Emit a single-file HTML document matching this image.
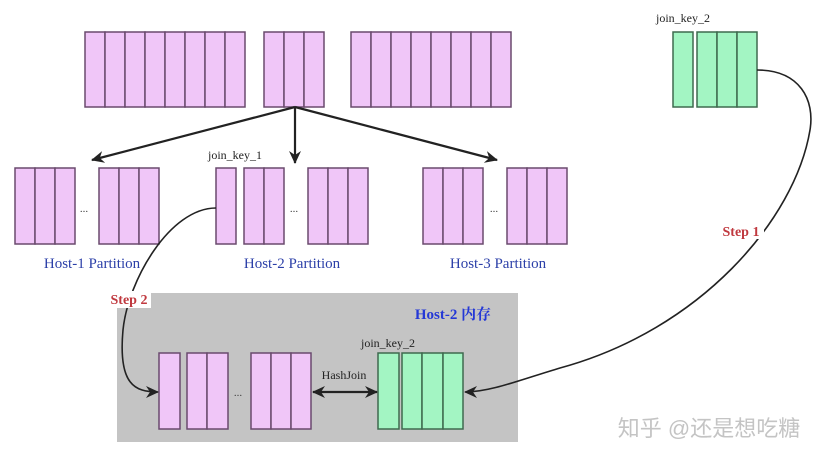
<!DOCTYPE html>
<html><head><meta charset="utf-8"><style>
html,body{margin:0;padding:0;background:#fff;width:831px;height:456px;overflow:hidden}
svg{display:block}
</style></head><body>
<svg width="831" height="456" viewBox="0 0 831 456" xmlns="http://www.w3.org/2000/svg" font-family="Liberation Serif, serif">
<defs>
<marker id="ah" markerWidth="13" markerHeight="12" refX="12" refY="6" orient="auto" markerUnits="userSpaceOnUse">
<path d="M0,0 L13,6 L0,12 L4,6 Z" fill="#222"/></marker>
<marker id="ahs" markerWidth="13" markerHeight="12" refX="1" refY="6" orient="auto" markerUnits="userSpaceOnUse">
<path d="M13,0 L0,6 L13,12 L9,6 Z" fill="#222"/></marker>
</defs>
<rect x="117" y="293" width="401" height="149" fill="#c4c4c4"/>
<g fill="#f0c6f8" stroke="#6a4a6e" stroke-width="1.5">
<rect x="85" y="32" width="20" height="75"/><rect x="105" y="32" width="20" height="75"/><rect x="125" y="32" width="20" height="75"/><rect x="145" y="32" width="20" height="75"/><rect x="165" y="32" width="20" height="75"/><rect x="185" y="32" width="20" height="75"/><rect x="205" y="32" width="20" height="75"/><rect x="225" y="32" width="20" height="75"/>
<rect x="264" y="32" width="20" height="75"/><rect x="284" y="32" width="20" height="75"/><rect x="304" y="32" width="20" height="75"/>
<rect x="351" y="32" width="20" height="75"/><rect x="371" y="32" width="20" height="75"/><rect x="391" y="32" width="20" height="75"/><rect x="411" y="32" width="20" height="75"/><rect x="431" y="32" width="20" height="75"/><rect x="451" y="32" width="20" height="75"/><rect x="471" y="32" width="20" height="75"/><rect x="491" y="32" width="20" height="75"/>
<rect x="15" y="168" width="20" height="76"/><rect x="35" y="168" width="20" height="76"/><rect x="55" y="168" width="20" height="76"/>
<rect x="99" y="168" width="20" height="76"/><rect x="119" y="168" width="20" height="76"/><rect x="139" y="168" width="20" height="76"/>
<rect x="216" y="168" width="20" height="76"/>
<rect x="244" y="168" width="20" height="76"/><rect x="264" y="168" width="20" height="76"/>
<rect x="308" y="168" width="20" height="76"/><rect x="328" y="168" width="20" height="76"/><rect x="348" y="168" width="20" height="76"/>
<rect x="423" y="168" width="20" height="76"/><rect x="443" y="168" width="20" height="76"/><rect x="463" y="168" width="20" height="76"/>
<rect x="507" y="168" width="20" height="76"/><rect x="527" y="168" width="20" height="76"/><rect x="547" y="168" width="20" height="76"/>
<rect x="159" y="353" width="21" height="76"/>
<rect x="187" y="353" width="20" height="76"/><rect x="207" y="353" width="21" height="76"/>
<rect x="251" y="353" width="20" height="76"/><rect x="271" y="353" width="20" height="76"/><rect x="291" y="353" width="20" height="76"/>
</g>
<g fill="#a3f5c3" stroke="#3e6a4e" stroke-width="1.5">
<rect x="673" y="32" width="20" height="75"/>
<rect x="697" y="32" width="20" height="75"/><rect x="717" y="32" width="20" height="75"/><rect x="737" y="32" width="20" height="75"/>
<rect x="378" y="353" width="21" height="76"/>
<rect x="402" y="353" width="20" height="76"/><rect x="422" y="353" width="21" height="76"/><rect x="443" y="353" width="20" height="76"/>
</g>
<g fill="#444" font-size="11">
<text x="84" y="212" text-anchor="middle">...</text>
<text x="294" y="212" text-anchor="middle">...</text>
<text x="494" y="212" text-anchor="middle">...</text>
<text x="238" y="396" text-anchor="middle">...</text>
</g>
<g fill="#222" font-size="12">
<text x="235" y="159" text-anchor="middle">join_key_1</text>
<text x="683" y="22" text-anchor="middle">join_key_2</text>
<text x="388" y="347" text-anchor="middle">join_key_2</text>
<text x="344" y="379" text-anchor="middle">HashJoin</text>
</g>
<g fill="#2b3fa8" font-size="15">
<text x="92" y="268" text-anchor="middle">Host-1 Partition</text>
<text x="292" y="268" text-anchor="middle">Host-2 Partition</text>
<text x="498" y="268" text-anchor="middle">Host-3 Partition</text>
</g>
<text x="453" y="319" text-anchor="middle" fill="#2438d6" font-size="15" font-weight="bold" font-family="Liberation Serif, Noto Serif CJK SC, serif">Host-2 内存</text>
<g stroke="#222" stroke-width="2.2" fill="none">
<line x1="295" y1="107" x2="92" y2="160" marker-end="url(#ah)"/>
<line x1="295" y1="107" x2="295" y2="163" marker-end="url(#ah)"/>
<line x1="295" y1="107" x2="497" y2="160" marker-end="url(#ah)"/>
<line x1="313" y1="392" x2="377" y2="392" marker-end="url(#ah)" marker-start="url(#ahs)"/>
<path d="M757,70 C800,70 815,100 810,130 C795,220 700,330 560,368 C520,380 490,392 465,392" stroke-width="1.6" marker-end="url(#ah)"/>
<path d="M216,208 C170,208 128,280 123,330 C118,385 135,392 158,392" stroke-width="1.6" marker-end="url(#ah)"/>
</g>
<rect x="107" y="291" width="44" height="17" fill="#fff"/>
<text x="129" y="304" text-anchor="middle" fill="#c0393f" font-size="14" font-weight="bold">Step 2</text>
<rect x="718" y="222" width="46" height="17" fill="#fff"/>
<text x="741" y="236" text-anchor="middle" fill="#c0393f" font-size="14" font-weight="bold">Step 1</text>
<text x="709" y="436" text-anchor="middle" fill="#c4c4c4" font-size="22" font-family="Liberation Sans, Noto Sans CJK SC, sans-serif">知乎 @还是想吃糖</text>
</svg>
</body></html>
